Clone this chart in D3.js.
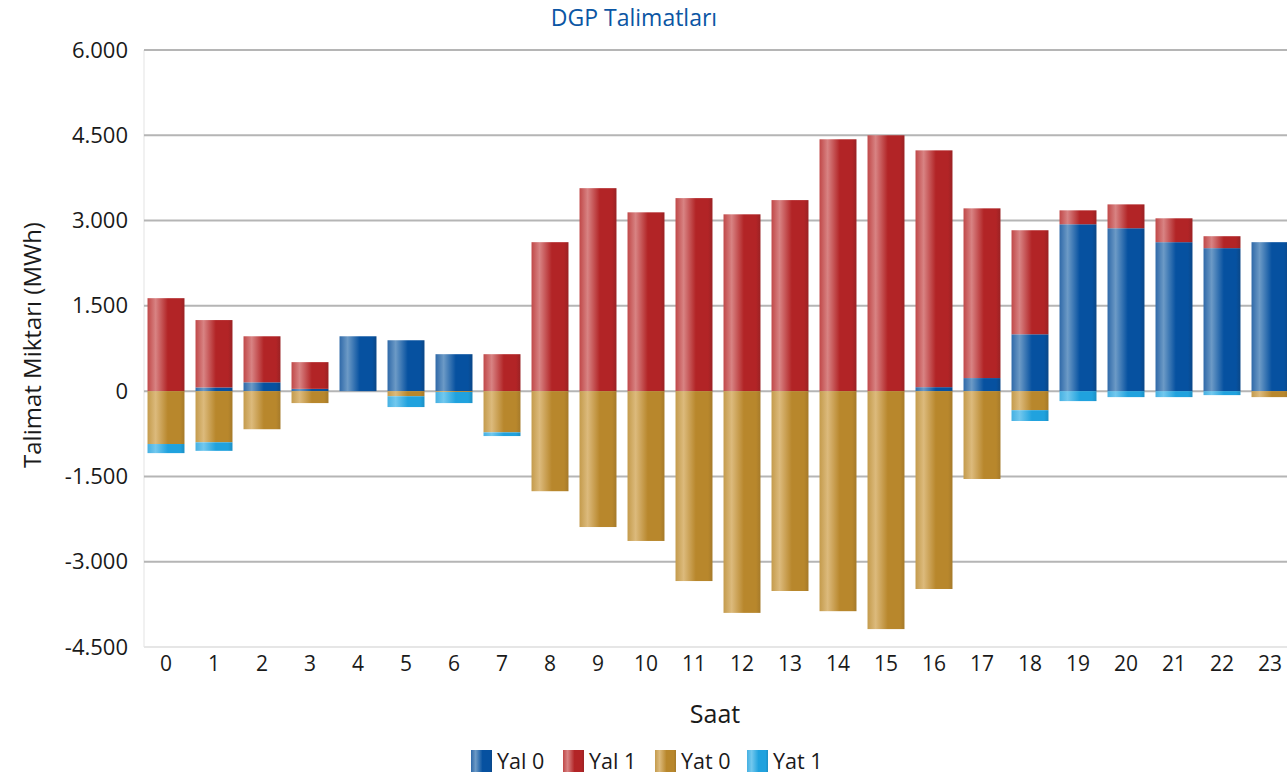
<!DOCTYPE html>
<html>
<head>
<meta charset="utf-8">
<script src="https://cdn.jsdelivr.net/npm/d3@7"></script>
<style>
  body { margin: 0; background: #fff; }
  svg { font-family: "Open Sans", "Noto Sans", sans-serif; }
</style>
</head>
<body>
<div id="chart"></div>
<script>
// data (MWh)
var hours = ["0","1","2","3","4","5","6","7","8","9","10","11","12","13","14","15","16","17","18","19","20","21","22","23"];
var yal0 = [0, 65, 155, 40, 965, 895, 650, 0, 0, 0, 0, 0, 0, 0, 0, 0, 70, 230, 1000, 2935, 2865, 2620, 2515, 2620];
var yal1 = [1635, 1185, 810, 470, 0, 0, 0, 650, 2620, 3570, 3145, 3395, 3110, 3360, 4430, 4500, 4165, 2985, 1830, 245, 420, 420, 210, 0];
var yat0 = [-930, -900, -670, -210, 0, -90, -15, -725, -1760, -2390, -2635, -3340, -3900, -3515, -3870, -4185, -3480, -1545, -335, 0, 0, 0, 0, -105];
var yat1 = [-160, -150, 0, 0, 0, -190, -195, -65, 0, 0, 0, 0, 0, 0, 0, 0, 0, 0, -190, -175, -105, -105, -70, 0];
var seriesNames = ["Yal 0", "Yal 1", "Yat 0", "Yat 1"];
var yTicks = [-4500, -3000, -1500, 0, 1500, 3000, 4500, 6000];

var svgWidth = 1287;
var svgHeight = 777;

var chartMargin = { top: 50, left: 142, bottom: 130 };
var plotRight = 1294;
var plotBottom = svgHeight - chartMargin.bottom;

// palette: [edge, highlight, base, dark]
var palette = {
  "Yal 0": ["#2f69a8", "#6c9ac6", "#0651a0", "#0b4787"],
  "Yal 1": ["#c04848", "#d88383", "#b22426", "#9a2224"],
  "Yat 0": ["#c49b4c", "#dcba7c", "#b8872c", "#a57a2a"],
  "Yat 1": ["#45b0e2", "#72c8ee", "#20a2de", "#1c8fc4"]
};

var table = hours.map(function(h, i) {
  return { hour: h, "Yal 0": yal0[i], "Yal 1": yal1[i], "Yat 0": yat0[i], "Yat 1": yat1[i] };
});

var svg = d3.select("#chart")
  .append("svg")
  .attr("width", svgWidth)
  .attr("height", svgHeight);

// gradients for the bars
var defs = svg.append("defs");
seriesNames.forEach(function(name, i) {
  var c = palette[name];
  var g = defs.append("linearGradient")
    .attr("id", "grad" + i)
    .attr("x1", 0).attr("x2", 1).attr("y1", 0).attr("y2", 0);
  [[0, c[0]], [0.22, c[1]], [0.55, c[2]], [0.88, c[2]], [1, c[3]]].forEach(function(s) {
    g.append("stop").attr("offset", s[0]).attr("stop-color", s[1]);
  });
});

var x = d3.scaleBand()
  .domain(hours)
  .range([chartMargin.left, plotRight])
  .paddingInner(0.23)
  .paddingOuter(0.115);

var y = d3.scaleLinear()
  .domain([-4500, 6000])
  .range([plotBottom, chartMargin.top]);

var locale = d3.formatLocale({ decimal: ",", thousands: ".", grouping: [3], currency: ["", ""], minus: "-" });
var fmt = locale.format(",.0f");

// light frame line on the left
svg.append("line")
  .attr("x1", chartMargin.left + 2).attr("x2", chartMargin.left + 2)
  .attr("y1", chartMargin.top).attr("y2", plotBottom)
  .attr("stroke", "#ececec").attr("stroke-width", 1.5);

// gridlines
svg.append("g")
  .selectAll("line")
  .data(yTicks)
  .enter()
  .append("line")
  .attr("x1", chartMargin.left + 2)
  .attr("x2", plotRight)
  .attr("y1", d => y(d))
  .attr("y2", d => y(d))
  .attr("stroke", d => d === -4500 ? "#e6e6e6" : "#b5b5b5")
  .attr("stroke-width", 2);

// y axis labels
var yAxis = svg.append("g")
  .attr("transform", `translate(${chartMargin.left - 14}, 0)`)
  .call(d3.axisLeft(y).tickValues(yTicks).tickFormat(fmt).tickSize(0).tickPadding(0));
yAxis.select(".domain").remove();
yAxis.selectAll("text")
  .attr("font-size", "22px")
  .attr("font-family", "Open Sans")
  .attr("fill", "#1a1a1a");

// x axis labels
var xAxis = svg.append("g")
  .attr("transform", `translate(0, ${plotBottom + 9})`)
  .call(d3.axisBottom(x).tickSize(0).tickPadding(0));
xAxis.select(".domain").remove();
xAxis.selectAll("text")
  .attr("font-size", "21px")
  .attr("font-family", "Open Sans")
  .attr("fill", "#1a1a1a");

// stacked bars
var stack = d3.stack()
  .keys(seriesNames)
  .offset(d3.stackOffsetDiverging);
var stacked = stack(table);

svg.append("g")
  .selectAll("g")
  .data(stacked)
  .enter()
  .append("g")
  .attr("fill", (d, i) => `url(#grad${i})`)
  .selectAll("rect")
  .data(d => d.filter(p => p[1] !== p[0]))
  .enter()
  .append("rect")
  .attr("x", d => x(d.data.hour))
  .attr("width", x.bandwidth())
  .attr("y", d => y(Math.max(d[0], d[1])))
  .attr("height", d => Math.abs(y(d[0]) - y(d[1])));

// title
svg.append("text")
  .attr("x", 634)
  .attr("y", 26)
  .attr("text-anchor", "middle")
  .attr("font-size", "23px")
  .attr("fill", "#0b56a4")
  .text("DGP Talimatları");

// axis titles
svg.append("text")
  .attr("transform", "rotate(-90)")
  .attr("x", -345)
  .attr("y", 41)
  .attr("text-anchor", "middle")
  .attr("font-size", "24px")
  .attr("fill", "#1a1a1a")
  .text("Talimat Miktarı (MWh)");

svg.append("text")
  .attr("x", 715)
  .attr("y", 723)
  .attr("text-anchor", "middle")
  .attr("font-size", "25px")
  .attr("fill", "#1a1a1a")
  .text("Saat");

// legend
var legend = svg.append("g")
  .attr("transform", "translate(471, 750)")
  .selectAll("g")
  .data(seriesNames)
  .enter()
  .append("g")
  .attr("transform", (d, i) => `translate(${i * 92}, 0)`);

legend.append("rect")
  .attr("width", 21)
  .attr("height", 22)
  .attr("fill", (d, i) => `url(#grad${i})`);

legend.append("text")
  .attr("x", 26)
  .attr("y", 19)
  .attr("font-size", "21.5px")
  .attr("fill", "#1a1a1a")
  .text(d => d);
</script>
</body>
</html>
